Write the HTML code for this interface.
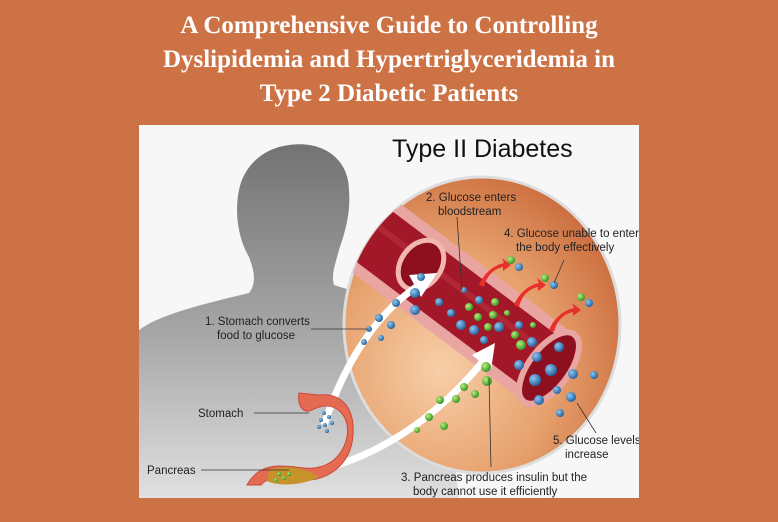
<!DOCTYPE html>
<html><head><meta charset="utf-8"><style>
html,body{margin:0;padding:0}
body{width:778px;height:522px;background:#CD7245;position:relative;overflow:hidden;font-family:"Liberation Sans",sans-serif}
h1{position:absolute;left:0;top:9px;width:778px;margin:0;text-align:center;color:#fff;font-family:"Liberation Serif",serif;font-weight:bold;font-size:25px;line-height:34px}
svg{position:absolute;left:139px;top:125px}
</style></head><body>
<h1>A Comprehensive Guide to Controlling<br>Dyslipidemia and Hypertriglyceridemia in<br>Type 2 Diabetic Patients</h1>
<svg width="500" height="373" viewBox="0 0 500 373">
<defs>
<linearGradient id="bd" x1="0" y1="0" x2="0" y2="1"><stop offset="0" stop-color="#737373"/><stop offset="0.55" stop-color="#a8a8a8"/><stop offset="1" stop-color="#e0e0e0"/></linearGradient>
<radialGradient id="cg" cx="0.35" cy="0.65" r="0.75"><stop offset="0" stop-color="#f8cfa8"/><stop offset="0.55" stop-color="#e6a06c"/><stop offset="1" stop-color="#c9683a"/></radialGradient>
<radialGradient id="bl" cx="0.35" cy="0.35" r="0.7"><stop offset="0" stop-color="#8fc7ef"/><stop offset="1" stop-color="#1e5d9a"/></radialGradient>
<radialGradient id="gr" cx="0.35" cy="0.35" r="0.7"><stop offset="0" stop-color="#b9ef7a"/><stop offset="1" stop-color="#2f8f22"/></radialGradient>
<clipPath id="cc"><ellipse cx="343" cy="200" rx="138" ry="148"/></clipPath>
</defs>
<rect width="500" height="373" fill="#f7f7f7"/>
<path d="M150 20 C185 15 210 35 210 65 C212 90 205 110 200 125 C196 140 192 150 195 160 C230 172 270 175 300 185 L320 373 L0 373 L0 205 C20 190 60 180 110 168 C118 158 115 145 110 132 C100 115 95 90 100 65 C105 40 125 23 150 20 Z" fill="url(#bd)"/>
<ellipse cx="343" cy="200" rx="138" ry="148" fill="url(#cg)" stroke="#ddd" stroke-width="3"/>
<g clip-path="url(#cc)">
<line x1="220" y1="100" x2="410" y2="243" stroke="#e9a5a2" stroke-width="84"/>
<line x1="220" y1="100" x2="410" y2="243" stroke="#a31828" stroke-width="62"/>
<line x1="200" y1="72" x2="430" y2="245" stroke="#b8323e" stroke-width="6" opacity="0.6"/>
</g>
<ellipse cx="410" cy="243" rx="20" ry="42" transform="rotate(37 410 243)" fill="#8e1020" stroke="#e9a5a2" stroke-width="6"/>
<ellipse cx="282" cy="140" rx="20" ry="27" transform="rotate(37 282 140)" fill="#8e1020" stroke="#f0b8b0" stroke-width="5"/>
<path d="M185 300 C205 240 235 190 280 160" fill="none" stroke="#fff" stroke-width="7"/>
<polygon points="270,150 298,148 282,172" fill="#fff"/>
<path d="M160 350 C240 335 300 290 345 235" fill="none" stroke="#fff" stroke-width="7"/>
<polygon points="333,230 356,218 352,245" fill="#fff"/>
<g fill="#e8302a"><path d="M340 160 C345 148 355 140 365 138 L363 133 L372 140 L364 146 L364 142 C355 144 348 150 345 162Z"/>
<path d="M375 180 C380 168 390 160 400 158 L398 153 L407 160 L399 166 L399 162 C390 164 383 170 380 182Z"/>
<path d="M410 205 C415 193 425 185 435 183 L433 178 L442 185 L434 191 L434 187 C425 189 418 195 415 207Z"/></g>
<g fill="url(#bl)">
<circle cx="282" cy="152" r="4"/><circle cx="276" cy="168" r="5"/><circle cx="276" cy="185" r="5"/><circle cx="257" cy="178" r="4"/><circle cx="240" cy="193" r="4"/><circle cx="252" cy="200" r="4"/><circle cx="230" cy="204" r="3"/><circle cx="242" cy="213" r="3"/><circle cx="225" cy="217" r="3"/><circle cx="325" cy="165" r="3"/>
<circle cx="300" cy="177" r="4"/><circle cx="312" cy="188" r="4"/><circle cx="340" cy="175" r="4"/><circle cx="322" cy="200" r="5"/><circle cx="335" cy="205" r="5"/><circle cx="360" cy="202" r="5"/><circle cx="345" cy="215" r="4"/><circle cx="380" cy="200" r="4"/><circle cx="393" cy="217" r="5"/><circle cx="398" cy="232" r="5"/><circle cx="380" cy="240" r="5"/><circle cx="412" cy="245" r="6"/><circle cx="396" cy="255" r="6"/><circle cx="420" cy="222" r="5"/><circle cx="434" cy="249" r="5"/><circle cx="455" cy="250" r="4"/><circle cx="400" cy="275" r="5"/><circle cx="432" cy="272" r="5"/><circle cx="418" cy="265" r="4"/><circle cx="421" cy="288" r="4"/><circle cx="380" cy="142" r="4"/><circle cx="415" cy="160" r="4"/><circle cx="450" cy="178" r="4"/></g>
<g fill="url(#gr)">
<circle cx="330" cy="182" r="4"/><circle cx="356" cy="177" r="4"/><circle cx="339" cy="192" r="4"/><circle cx="354" cy="190" r="4"/><circle cx="368" cy="188" r="3"/><circle cx="349" cy="202" r="4"/><circle cx="376" cy="210" r="4"/><circle cx="382" cy="220" r="5"/><circle cx="394" cy="200" r="3"/><circle cx="347" cy="242" r="5"/><circle cx="348" cy="256" r="5"/><circle cx="325" cy="262" r="4"/><circle cx="336" cy="269" r="4"/><circle cx="317" cy="274" r="4"/><circle cx="301" cy="275" r="4"/><circle cx="290" cy="292" r="4"/><circle cx="305" cy="301" r="4"/><circle cx="278" cy="305" r="3"/><circle cx="372" cy="135" r="4"/><circle cx="406" cy="153" r="4"/><circle cx="442" cy="172" r="4"/></g>
<path d="M160 268 C158 282 165 290 175 284 C195 274 212 290 208 312 C203 335 185 345 165 343 C148 341 130 338 118 348 C112 353 109 358 108 360 L122 360 C128 352 140 352 158 355 C188 358 212 340 214 310 C216 280 200 268 180 270 Z" fill="#e56a52" stroke="#c84a3a" stroke-width="1"/>
<path d="M130 345 C150 338 170 345 180 352 C165 360 140 362 128 356 Z" fill="#c8922a"/>
<g fill="url(#bl)"><circle cx="185" cy="288" r="2"/><circle cx="190" cy="292" r="2"/><circle cx="182" cy="295" r="2"/><circle cx="193" cy="298" r="2"/><circle cx="186" cy="300" r="2"/><circle cx="180" cy="302" r="2"/><circle cx="188" cy="306" r="2"/></g>
<g fill="url(#gr)"><circle cx="140" cy="349" r="2"/><circle cx="145" cy="353" r="2"/><circle cx="150" cy="349" r="2"/><circle cx="137" cy="355" r="2"/></g>
<g stroke="#333" stroke-width="0.8" fill="none">
<line x1="172" y1="204" x2="230" y2="204"/><line x1="115" y1="288" x2="170" y2="288"/><line x1="62" y1="345" x2="150" y2="345"/>
<line x1="318" y1="92" x2="323" y2="165"/><line x1="425" y1="135" x2="415" y2="158"/><line x1="350" y1="253" x2="352" y2="342"/><line x1="438" y1="278" x2="457" y2="308"/></g>
<g font-size="11.5" fill="#222" font-family="Liberation Sans,sans-serif">
<text x="253" y="32" font-size="25" fill="#111">Type II Diabetes</text>
<text x="287" y="76">2. Glucose enters</text><text x="299" y="90">bloodstream</text>
<text x="365" y="112">4. Glucose unable to enter</text><text x="377" y="126">the body effectively</text>
<text x="66" y="200">1. Stomach converts</text><text x="78" y="214">food to glucose</text>
<text x="59" y="292">Stomach</text>
<text x="8" y="349">Pancreas</text>
<text x="414" y="319">5. Glucose levels</text><text x="426" y="333">increase</text>
<text x="262" y="356">3. Pancreas produces insulin but the</text><text x="274" y="370">body cannot use it efficiently</text>
</g>
</svg>
</body></html>
